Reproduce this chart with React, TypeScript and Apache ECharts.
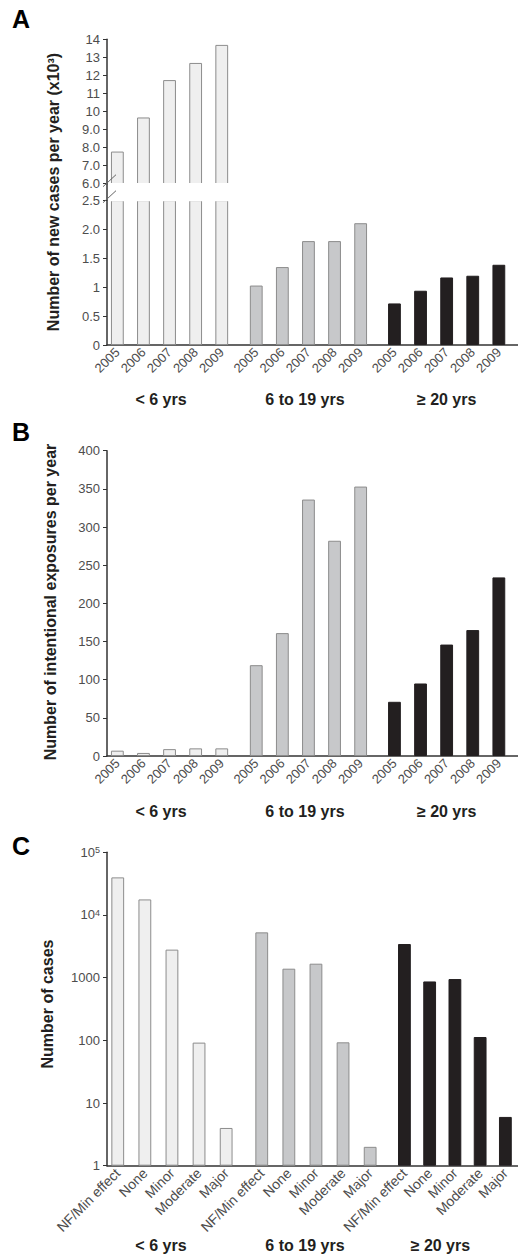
import React, { useEffect, useRef } from "react";
import * as echarts from "echarts";

// ---------------- data ----------------
const years = ["2005", "2006", "2007", "2008", "2009"];
const outcomes = ["NF/Min effect", "None", "Minor", "Moderate", "Major"];
const ageGroups = ["< 6 yrs", "6 to 19 yrs", "\u2265 20 yrs"];

// Panel A: new cases per year (x10^3)
const newCasesUnder6 = [7.78, 9.67, 11.74, 12.69, 13.69];
const newCases6to19 = [1.03, 1.35, 1.8, 1.8, 2.11];
const newCases20plus = [0.72, 0.94, 1.17, 1.2, 1.39];

// Panel B: intentional exposures per year
const intentionalUnder6 = [7, 4, 9, 10, 10];
const intentional6to19 = [119, 161, 336, 282, 353];
const intentional20plus = [71, 95, 146, 165, 234];

// Panel C: number of cases by outcome
const outcomeUnder6 = [39800, 17700, 2800, 92, 4];
const outcome6to19 = [5280, 1390, 1670, 93, 2];
const outcome20plus = [3440, 870, 950, 113, 6];

// tick labels
const upperTicksA = ["6.0", "7.0", "8.0", "9.0", "10", "11", "12", "13", "14"];
const lowerTicksA = ["0", "0.5", "1", "1.5", "2.0", "2.5"];
const logTicksC = ["1", "10", "100", "1000", "10{sup|4}", "10{sup|5}"];

// ---------------- layout / style ----------------
const W = 518;
const H = 1259;
const AXIS_LEFT = 107;
const FONT = "'Liberation Sans', Arial, Helvetica, sans-serif";
const AXIS_COLOR = "#333333";
const LABEL_COLOR = "#4d4d4d";
const TITLE_COLOR = "#231f20";
const TICK_FONT = 13;
const CAT_FONT_AB = 13;
const CAT_FONT_C = 14;
const NAME_FONT = 16;
const fills = ["#efefef", "#c7c8ca", "#231f20"];
const borders = ["#8c8c8c", "#8c8c8c", "#231f20"];

const A = { upperTop: 39.3, upperBottom: 183.7, lowerTop: 200.7, bottom: 345, breakLow: 2.5, breakHigh: 6, max: 14 };
const B = { top: 450.7, bottom: 756 };
const C = { top: 852.3, bottom: 1165.7 };

const groupLeftAB = [104.3, 243.2, 381.4];
const groupWidthAB = 130.5;
const groupLeftC = [104.2, 248.2, 391.8];
const groupWidthC = 135.5;
const groupNameShiftAB = [-8.5, -3.5, 0];
const groupNameShiftC = [-11, -11, -14.5];

function buildOption() {
  const grids: any[] = [];
  const xAxes: any[] = [];
  const yAxes: any[] = [];
  const series: any[] = [];

  const lineStyle = { color: AXIS_COLOR, width: 1.5 };

  const addGrid = (left: number, top: number, bottom: number, width: number) => {
    grids.push({ left, top, width, height: bottom - top });
    return grids.length - 1;
  };

  const addBackground = (top: number, bottom: number, yCfg: any, showBottom: boolean) => {
    const gi = addGrid(AXIS_LEFT, top, bottom, W - AXIS_LEFT + 2);
    xAxes.push({
      type: "value",
      gridIndex: gi,
      min: 0,
      max: 1,
      axisLine: { show: showBottom, lineStyle },
      axisTick: { show: false },
      axisLabel: { show: false },
      splitLine: { show: false },
    });
    yAxes.push({
      gridIndex: gi,
      ...yCfg,
      axisLine: { show: true, lineStyle },
      axisTick: { show: true, length: 4, lineStyle: { color: AXIS_COLOR, width: 1 } },
      splitLine: { show: false },
      axisLabel: {
        color: LABEL_COLOR,
        fontSize: TICK_FONT,
        fontFamily: FONT,
        margin: 7,
        ...(yCfg.axisLabel || {}),
      },
    });
  };

  const addBars = (
    left: number,
    width: number,
    top: number,
    bottom: number,
    cats: string[],
    values: (number | null)[],
    gIdx: number,
    yCfg: any,
    showLabels: boolean,
    name: string,
    nameGap: number,
    nameShift: number,
    catFont: number
  ) => {
    const gi = addGrid(left, top, bottom, width);
    xAxes.push({
      type: "category",
      gridIndex: gi,
      data: cats,
      axisLine: { show: false },
      axisTick: { show: false },
      splitLine: { show: false },
      axisLabel: {
        show: showLabels,
        rotate: 45,
        interval: 0,
        color: LABEL_COLOR,
        fontSize: catFont,
        fontFamily: FONT,
        margin: 5,
      },
      name: showLabels ? name : "",
      nameLocation: "middle",
      nameGap,
      nameTextStyle: {
        fontSize: NAME_FONT,
        fontWeight: "bold",
        color: TITLE_COLOR,
        fontFamily: FONT,
        padding: nameShift < 0 ? [0, -2 * nameShift, 0, 0] : [0, 0, 0, 2 * nameShift],
      },
    });
    yAxes.push({ gridIndex: gi, ...yCfg, show: false });
    series.push({
      type: "bar",
      xAxisIndex: gi,
      yAxisIndex: gi,
      data: values,
      barWidth: 12.8,
      clip: true,
      silent: true,
      itemStyle: { color: fills[gIdx], borderColor: borders[gIdx], borderWidth: 1 },
    });
  };

  // ---------- Panel A ----------
  const aUpperY = {
    type: "value",
    min: A.breakHigh,
    max: A.max,
    interval: 1,
    axisLabel: { formatter: (v: number) => upperTicksA[Math.round(v - A.breakHigh)] },
  };
  const aLowerY = {
    type: "value",
    min: 0,
    max: A.breakLow,
    interval: 0.5,
    axisLabel: { formatter: (v: number) => lowerTicksA[Math.round(v / 0.5)] },
  };
  addBackground(A.upperTop, A.upperBottom, aUpperY, false);
  addBackground(A.lowerTop, A.bottom, aLowerY, true);
  const aData = [newCasesUnder6, newCases6to19, newCases20plus];
  aData.forEach((vals, g) => {
    addBars(
      groupLeftAB[g], groupWidthAB, A.upperTop, A.upperBottom, years,
      vals.map((v) => (v > A.breakHigh ? v : null)), g, aUpperY, false, "", 0, 0, CAT_FONT_AB
    );
    addBars(
      groupLeftAB[g], groupWidthAB, A.lowerTop, A.bottom, years,
      vals, g, aLowerY, true, ageGroups[g], 46, groupNameShiftAB[g], CAT_FONT_AB
    );
  });

  // ---------- Panel B ----------
  const bY = { type: "value", min: 0, max: 400, interval: 50 };
  addBackground(B.top, B.bottom, bY, true);
  const bData = [intentionalUnder6, intentional6to19, intentional20plus];
  bData.forEach((vals, g) => {
    addBars(groupLeftAB[g], groupWidthAB, B.top, B.bottom, years, vals, g, bY, true, ageGroups[g], 47, groupNameShiftAB[g], CAT_FONT_AB);
  });

  // ---------- Panel C ----------
  const cY = {
    type: "log",
    logBase: 10,
    min: 1,
    max: 100000,
    axisLabel: {
      formatter: (v: number) => logTicksC[Math.round(Math.log10(v))],
      rich: {
        sup: { fontSize: 9, color: LABEL_COLOR, fontFamily: FONT, verticalAlign: "top", lineHeight: 9 },
      },
    },
  };
  addBackground(C.top, C.bottom, cY, true);
  const cData = [outcomeUnder6, outcome6to19, outcome20plus];
  cData.forEach((vals, g) => {
    addBars(groupLeftC[g], groupWidthC, C.top, C.bottom, outcomes, vals, g, cY, true, ageGroups[g], 71, groupNameShiftC[g], CAT_FONT_C);
  });

  // ---------- decorations ----------
  const letter = (t: string, y: number) => ({
    type: "text",
    left: 12,
    top: y,
    style: { text: t, fontSize: 25, fontWeight: "bold", fill: "#000", fontFamily: FONT },
  });
  const yName = (t: string, x: number, y: number) => ({
    type: "text",
    x,
    y,
    rotation: Math.PI / 2,
    style: {
      text: t,
      fontSize: NAME_FONT,
      fontWeight: "bold",
      fill: TITLE_COLOR,
      fontFamily: FONT,
      align: "center",
      verticalAlign: "middle",
    },
  });
  const breakMark = (y: number) => ({
    type: "line",
    z: 101,
    shape: { x1: AXIS_LEFT - 4, y1: y + 5, x2: AXIS_LEFT + 9, y2: y - 7 },
    style: { stroke: "#666", lineWidth: 1 },
  });

  const graphic = [
    letter("A", 6),
    letter("B", 419),
    letter("C", 833),
    yName("Number of new cases per year (x10\u00b3)", 53, 192),
    yName("Number of intentional exposures per year", 50, 602),
    yName("Number of cases", 47, 1004),
    {
      type: "rect",
      z: 100,
      shape: { x: AXIS_LEFT + 1, y: A.upperBottom - 0.6, width: W, height: A.lowerTop - A.upperBottom + 1.2 },
      style: { fill: "#ffffff" },
    },
    {
      type: "line",
      z: 100,
      shape: { x1: AXIS_LEFT, y1: A.upperBottom, x2: AXIS_LEFT, y2: A.lowerTop },
      style: { stroke: AXIS_COLOR, lineWidth: 1.5 },
    },
    breakMark(A.upperBottom - 2),
    breakMark(A.lowerTop - 3),
  ];

  return {
    animation: false,
    backgroundColor: "#ffffff",
    textStyle: { fontFamily: FONT },
    grid: grids,
    xAxis: xAxes,
    yAxis: yAxes,
    series,
    graphic,
  };
}

export default function App() {
  const ref = useRef<HTMLDivElement>(null);
  useEffect(() => {
    if (!ref.current) return;
    const chart = echarts.init(ref.current, null, { renderer: "svg" });
    chart.setOption(buildOption() as any);
    return () => chart.dispose();
  }, []);
  return (
    <div
      ref={ref}
      style={{ position: "absolute", left: 0, top: 0, width: W, height: H, background: "#fff" }}
    />
  );
}
